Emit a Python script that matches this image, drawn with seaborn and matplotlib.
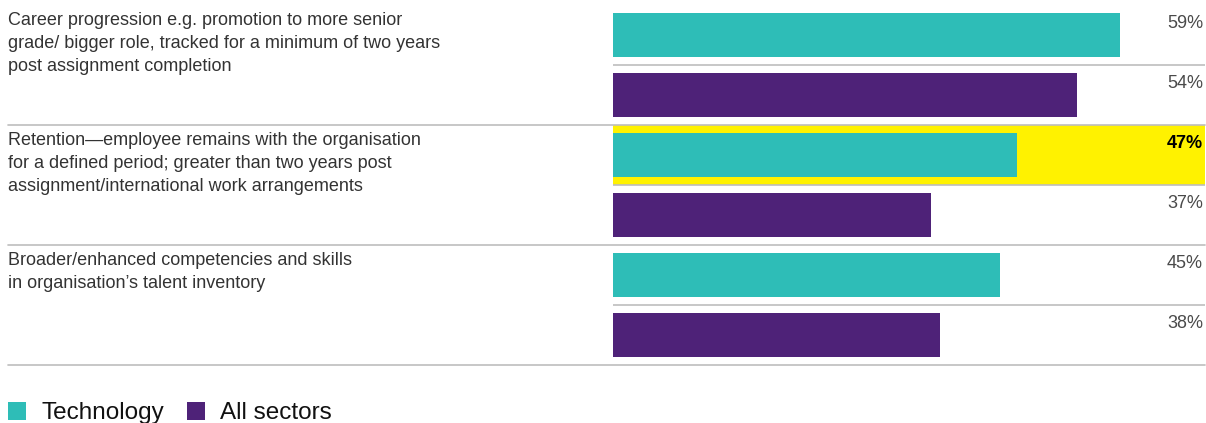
import matplotlib
matplotlib.use("Agg")
import matplotlib.pyplot as plt
import matplotlib.transforms as mtransforms
import seaborn as sns
import pandas as pd

# --- data ---------------------------------------------------------------
categories = [
    "Career progression e.g. promotion to more senior\n"
    "grade/ bigger role, tracked for a minimum of two years\n"
    "post assignment completion",
    "Retention\u2014employee remains with the organisation\n"
    "for a defined period; greater than two years post\n"
    "assignment/international work arrangements",
    "Broader/enhanced competencies and skills\n"
    "in organisation\u2019s talent inventory",
]
series = ["Technology", "All sectors"]
technology = [59, 47, 45]
all_sectors = [54, 37, 38]
highlight = (1, "Technology")  # row / series drawn on a yellow band

colors = {"Technology": "#2EBDB7", "All sectors": "#4E2278"}
YELLOW = "#FFF200"
RULE = "#BDBDBD"

df = pd.DataFrame({
    "category": categories * 2,
    "series": [series[0]] * 3 + [series[1]] * 3,
    "value": technology + all_sectors,
})

# --- figure -------------------------------------------------------------
sns.set_theme(style="white")
plt.rcParams["font.family"] = ["Liberation Sans", "DejaVu Sans"]

W, H = 1206, 423
fig = plt.figure(figsize=(W / 100, H / 100), dpi=100)
x0, x1, y0, y1 = 613, 1205, 5, 365
ax = fig.add_axes([x0 / W, 1 - y1 / H, (x1 - x0) / W, (y1 - y0) / H])

sns.barplot(data=df, y="category", x="value", hue="series", orient="h",
            palette=colors, width=1.0, gap=0.283, ax=ax, legend=True,
            saturation=1, linewidth=0, edgecolor="none", zorder=3)

ax.set_xlim(0, (x1 - x0) / 8.593)
ax.set_ylim(2.5, -0.5)
ax.set_axis_off()

# yellow band behind the highlighted bar
hi_row, hi_series = highlight
s_off = -0.25 if hi_series == series[0] else 0.25
ax.axhspan(hi_row + s_off - 0.25, hi_row + s_off + 0.25, color=YELLOW, zorder=1, lw=0)

# rules: between the two bars of a row, and full-width under every row
for i in range(len(categories)):
    ax.axhline(i, color=RULE, lw=1.2, zorder=2)
    ax.axhline(i + 0.5, xmin=(8 - x0) / (x1 - x0), xmax=1, color=RULE, lw=1.2,
               zorder=2, clip_on=False)

# value labels at the right edge of each bar slot
for s, cont in zip(series, ax.containers):
    for i, bar in enumerate(cont):
        val = bar.get_width()
        yc = bar.get_y() + bar.get_height() / 2
        bold = (i == hi_row and s == hi_series)
        ax.text(1.0 - 2 / (x1 - x0), yc - 0.25 + 23 / 120, f"{val:.0f}%",
                transform=mtransforms.blended_transform_factory(ax.transAxes, ax.transData),
                ha="right", va="baseline", fontsize=13,
                fontweight="bold" if bold else "normal",
                color="#000000" if bold else "#4a4a4a", zorder=4)

# row labels on the left
trans = mtransforms.blended_transform_factory(fig.transFigure, ax.transData)
for i, cat in enumerate(categories):
    ax.text(8 / W, i - 0.5 + 7 / 120, cat, transform=trans, ha="left",
            va="top", fontsize=13, color="#333333", linespacing=1.48,
            clip_on=False)

# legend at the bottom
handles, labels = ax.get_legend_handles_labels()
ax.get_legend().remove()
fig.legend(handles, labels, loc="center left",
           bbox_to_anchor=(8 / W, 1 - 413 / H), ncol=2, frameon=False,
           fontsize=17.5, handlelength=0.76, handleheight=0.76,
           handletextpad=0.6, columnspacing=0.95, borderpad=0,
           borderaxespad=0, labelcolor="#111111")

fig.savefig("out.png", dpi=100)
